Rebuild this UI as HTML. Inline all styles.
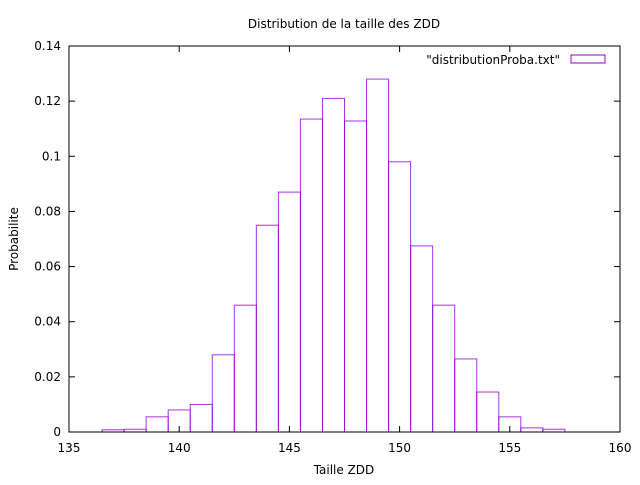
<!DOCTYPE html>
<html><head><meta charset="utf-8"><style>
body{margin:0;background:#fff}
text{font-family:"DejaVu Sans","Liberation Sans",sans-serif;font-size:12px;fill:#000}
</style></head><body>
<svg id="chart" width="640" height="480">
<rect x="0" y="0" width="640" height="480" fill="#fff"/>
<text x="344" y="28" text-anchor="middle">Distribution de la taille des ZDD</text>
<text x="344" y="474" text-anchor="middle">Taille ZDD</text>
<text transform="translate(18,239) rotate(-90)" text-anchor="middle">Probabilite</text>
<g id="axes"></g>
<g id="bars"></g>
<rect x="69" y="46" width="551" height="386" fill="none" stroke="#000" stroke-width="1"/>
<text x="560" y="64" text-anchor="end">"distributionProba.txt"</text>
<rect x="571" y="55" width="34" height="8" fill="none" stroke="#9400d3" stroke-width="1"/>
</svg>
<script>
const categories=[136,137,138,139,140,141,142,143,144,145,146,147,148,149,150,151,152,153,154,155,156,157,158,159];
const values=[0,0.0008,0.001,0.0055,0.008,0.01,0.028,0.046,0.075,0.087,0.1135,0.121,0.1128,0.128,0.098,0.0675,0.046,0.0265,0.0145,0.0055,0.0015,0.001,0,0];
const xTicks=[135,140,145,150,155,160];
const yTicks=[0,0.02,0.04,0.06,0.08,0.1,0.12,0.14];
const yTickLabels=["0","0.02","0.04","0.06","0.08","0.1","0.12","0.14"];
const NS="http://www.w3.org/2000/svg";
const X0=69,X1=620,Y0=432,Y1=46;
const xs=v=>X0+(v-135)/(160-135)*(X1-X0);
const ys=v=>Y0-(v/0.14)*(Y0-Y1);
const axes=document.getElementById('axes');
function mk(tag,attrs,parent){const e=document.createElementNS(NS,tag);for(const k in attrs)e.setAttribute(k,attrs[k]);parent.appendChild(e);return e;}
xTicks.forEach(t=>{
 const x=xs(t);
 const l1=mk('line',{x1:x,x2:x,y1:Y0,y2:Y0-6,stroke:'#000'},axes);
 
 
 const l2=mk('line',{x1:x,x2:x,y1:Y1,y2:Y1+6,stroke:'#000'},axes);
 
 
 const tx=mk('text',{x:x,y:452,'text-anchor':'middle'},axes);tx.textContent=t;
 
 
});
yTicks.forEach((t,i)=>{
 const y=ys(t);
 const l1=mk('line',{x1:X0,x2:X0+6,y1:y,y2:y,stroke:'#000'},axes);
 
 
 const l2=mk('line',{x1:X1,x2:X1-6,y1:y,y2:y,stroke:'#000'},axes);
 
 
 const tx=mk('text',{x:61,y:y+4,'text-anchor':'end'},axes);tx.textContent=yTickLabels[i];
 
 
});
const bars=document.getElementById('bars');
categories.forEach((c,i)=>{
 const xa=xs(c-0.5),xb=xs(c+0.5),y=ys(values[i]);
 const r=mk('rect',{x:xa,y:y,width:xb-xa,height:Math.max(Y0-y,0),fill:'none',stroke:'#9400d3','stroke-width':1,'stroke-opacity':0.8},bars);
 
 
});
</script>
</body></html>
